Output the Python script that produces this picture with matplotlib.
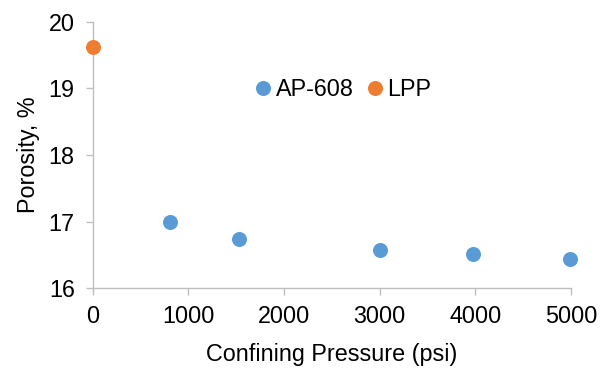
import matplotlib
matplotlib.use("Agg")
import matplotlib.pyplot as plt

plt.rcParams['font.family'] = ['Liberation Sans', 'DejaVu Sans']

# data
ap_pressure = [811, 1529, 3000, 3980, 4990]
ap_porosity = [17.00, 16.74, 16.57, 16.51, 16.44]
lpp_pressure = [0]
lpp_porosity = [19.62]
xticks = [0, 1000, 2000, 3000, 4000, 5000]
yticks = [16, 17, 18, 19, 20]

fig = plt.figure(figsize=(6.01, 3.71), dpi=100)
ax = fig.add_axes([0.1543, 0.2229, 0.7957, 0.7191])

ax.plot(ap_pressure, ap_porosity, 'o', color='#5B9BD5', ms=10.8, mew=0,
        label='AP-608', clip_on=False, zorder=3)
ax.plot(lpp_pressure, lpp_porosity, 'o', color='#ED7D31', ms=10.8, mew=0,
        label='LPP', clip_on=False, zorder=3)

ax.set_xlim(0, 5000); ax.set_ylim(16, 20)
ax.set_xticks(xticks); ax.set_yticks(yticks)
for s in ['top', 'right']:
    ax.spines[s].set_visible(False)
for s in ['left', 'bottom']:
    ax.spines[s].set_color('#BFBFBF'); ax.spines[s].set_linewidth(1.0)
ax.tick_params(colors='#BFBFBF', labelcolor='black', labelsize=16.8,
               length=5, width=1.0)
ax.tick_params(axis='x', pad=7)
ax.tick_params(axis='y', pad=8)
ax.set_xlabel('Confining Pressure (psi)', fontsize=16.8, labelpad=11)
ax.set_ylabel('Porosity, %', fontsize=16.8, labelpad=6)

ax.legend(loc='center', bbox_to_anchor=(0.571, 0.758), bbox_transform=fig.transFigure,
          ncol=2, frameon=False, fontsize=16.8, handletextpad=0.2,
          columnspacing=0.54, handlelength=0.7, markerscale=1.0)

fig.savefig('out.png', dpi=100)
